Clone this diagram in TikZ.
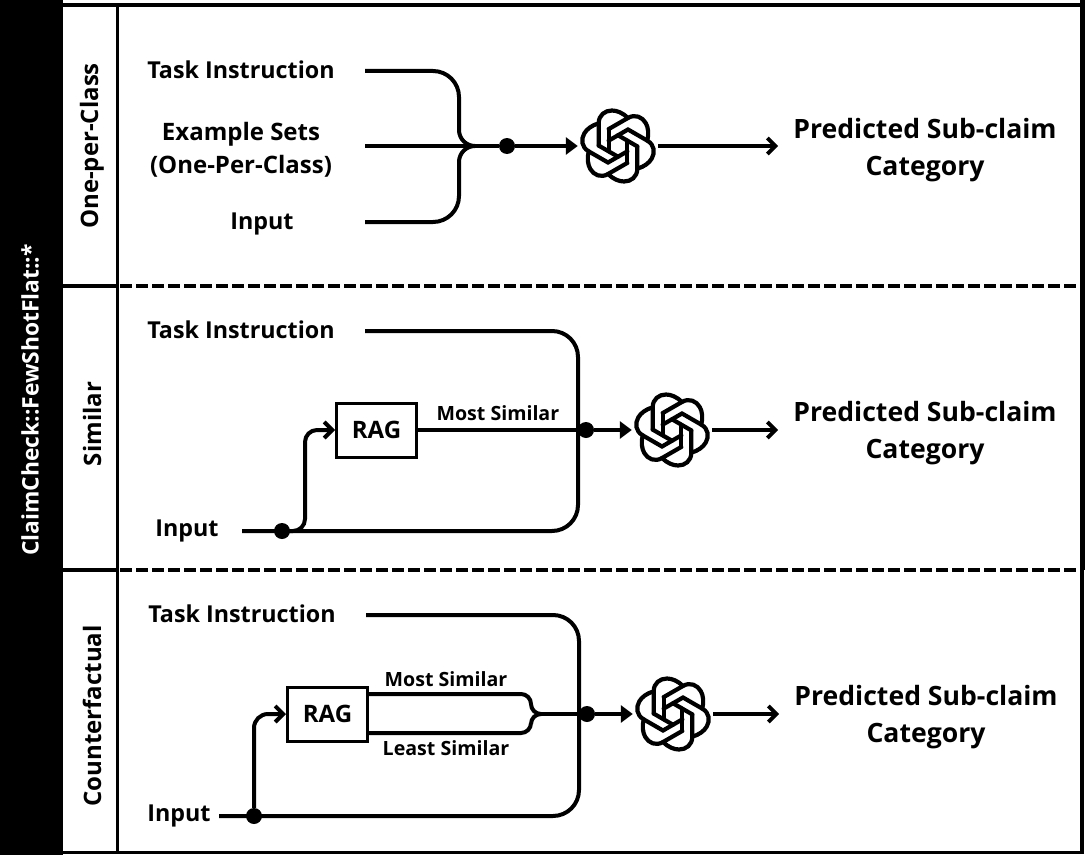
\documentclass[tikz,border=0pt]{standalone}
\usepackage{fontspec}
\setmainfont{Open Sans}
\usetikzlibrary{arrows.meta}
\tikzstyle{every edge} = [draw,line width=4pt]
\tikzstyle{wire} = [draw,line width=4pt]
\tikzstyle{solid tip} = [-{Triangle[length=12pt,width=17pt]}]
\tikzstyle{open tip} = [-{Straight Barb[length=8pt,width=16pt]}]
\tikzstyle{txt} = [inner sep=0pt,font=\fontsize{23.3}{33}\selectfont\bfseries,align=center]
\tikzstyle{small txt} = [inner sep=0pt,font=\fontsize{19.6}{22}\selectfont\bfseries]
\tikzstyle{side txt} = [txt,rotate=90,font=\fontsize{24}{26}\selectfont\bfseries]
\tikzstyle{pred} = [txt,inner xsep=15pt,font=\fontsize{26.6}{37}\selectfont\bfseries]
\tikzstyle{task} = [txt,minimum width=248pt,text depth=2pt]
\tikzstyle{dot} = [circle,fill=black,minimum size=16pt,inner sep=0pt]
\tikzstyle{ragbox} = [draw,line width=3pt,minimum width=80pt,minimum height=54pt,inner sep=0pt,font=\fontsize{24}{28}\selectfont\bfseries]
\tikzstyle{gpt} = [circle,minimum size=80pt,inner sep=0pt]
\tikzset{pics/gptlogo/.style={code={
	\foreach \ang in {0,60,...,300} {
		\begin{scope}[rotate=\ang,line width=4.2pt,line cap=round]
		\draw (-19.3,-.4) -- (-19.3,-22.7) .. controls (-19.3,-31) and (-13,-35.5) .. (-6,-35.5) .. controls (-1,-35.5) and (5,-33) .. (10,-28);
		\draw (-9.3,5.4) -- (-9.3,-16.9);
		\end{scope}
	}}}}

\begin{document}
\begin{tikzpicture}[x=1pt,y=-1pt]
\useasboundingbox (0,0) rectangle (1086,856);

% frame
\fill (0,0) rectangle (63,855);
\fill (1080,0) rectangle (1085,570);
\fill (1080,570) rectangle (1083.5,854);
\draw[line width=3.5pt] (63,5) -- (1080,5);
\draw[line width=3.5pt] (63,852.5) -- (1080,852.5);
\draw[line width=3pt] (117.5,5) -- (117.5,852);
\draw[line width=4pt] (63,286) -- (117,286);
\draw[line width=4pt] (63,570) -- (117,570);
\draw[line width=4pt,dash pattern=on 12pt off 4pt] (120,286) -- (1080,286);
\draw[line width=4pt,dash pattern=on 12pt off 4pt] (120,570) -- (1080,570);

\node[side txt,text=white,font=\fontsize{22.8}{26}\selectfont\bfseries] (family) at (30,400) {ClaimCheck::FewShotFlat::*};
\node[side txt] (side1) at (92,146) {One-per-Class};
\node[side txt] (side2) at (92,424) {Similar};
\node[side txt] (side3) at (92,716) {Counterfactual};

% one per class
\node[task] (task1) at (241,71) {Task Instruction};
\node[txt,minimum width=248pt,font=\fontsize{24}{33}\selectfont\bfseries] (sets1) at (241,150) {Example Sets\\(One-Per-Class)};
\node[txt,minimum width=206pt,text height=21pt] (input1) at (262,222) {Input};
\coordinate (merge1) at (475,146);
\node[dot] (dot1) at (507,146) {};
\node[gpt] (gpt1) at (618,146) {};
\pic at (gpt1) {gptlogo};
\node[pred] (pred1) at (925,150) {Predicted Sub-claim\\Category};

\draw[wire,rounded corners=26pt] (task1.east) -- (459,71) [rounded corners=16pt] -- (459,146) -- (merge1);
\draw[wire,rounded corners=26pt] (input1.east) -- (459,222) [rounded corners=16pt] -- (459,146) -- (merge1);
\draw (sets1.east |- dot1) edge (dot1);
\draw (dot1) edge[solid tip] (gpt1);
\draw (gpt1) edge[open tip] (gpt1 -| pred1.west);

% similar
\node[task] (task2) at (241,331) {Task Instruction};
\node[txt,minimum width=110pt] (input2) at (187,531) {Input};
\node[dot] (dot2) at (282,531) {};
\node[ragbox] (rag2) at (376.5,430) {RAG};
\node[dot] (join2) at (586,430) {};
\node[gpt] (gpt2) at (672,430) {};
\pic at (gpt2) {gptlogo};
\node[pred] (pred2) at (925,433) {Predicted Sub-claim\\Category};

\draw[wire,rounded corners=26pt] (task2.east) -| (578,531) -- (input2.east);
\draw[wire,open tip,rounded corners=12pt] (dot2) -- (305,531) -- (305,430) -- (rag2.west);
\draw (rag2) edge node[small txt,above=7pt] {Most Similar} (join2);
\draw (join2) edge[solid tip] (gpt2);
\draw (gpt2) edge[open tip] (gpt2 -| pred2.west);

% counterfactual
\node[task] (task3) at (242,615) {Task Instruction};
\node[txt,minimum width=80pt] (input3) at (179,816) {Input};
\node[dot] (dot3) at (254,816) {};
\node[ragbox] (rag3) at (327.5,714) {RAG};
\coordinate (most3) at (369,694);
\coordinate (least3) at (367,733);
\coordinate (merge3) at (541,714);
\node[small txt] (mostlabel3) at (446,679.5) {Most Similar};
\node[small txt] (leastlabel3) at (446,748.5) {Least Similar};
\node[dot] (join3) at (587,714) {};
\node[gpt] (gpt3) at (673,714) {};
\pic at (gpt3) {gptlogo};
\node[pred] (pred3) at (926,717) {Predicted Sub-claim\\Category};

\draw[wire,rounded corners=26pt] (task3.east) -| (579,816) -- (input3.east);
\draw[wire,open tip,rounded corners=14pt] (dot3) |- (rag3.west);
\draw[wire,rounded corners=10pt] (most3) -- (531,694) -- (531,714) -- (merge3);
\draw[wire,rounded corners=10pt] (least3) -- (531,733) -- (531,714) -- (merge3);
\draw (merge3) edge (join3);
\draw (join3) edge[solid tip] (gpt3);
\draw (gpt3) edge[open tip] (gpt3 -| pred3.west);

\end{tikzpicture}
\end{document}
